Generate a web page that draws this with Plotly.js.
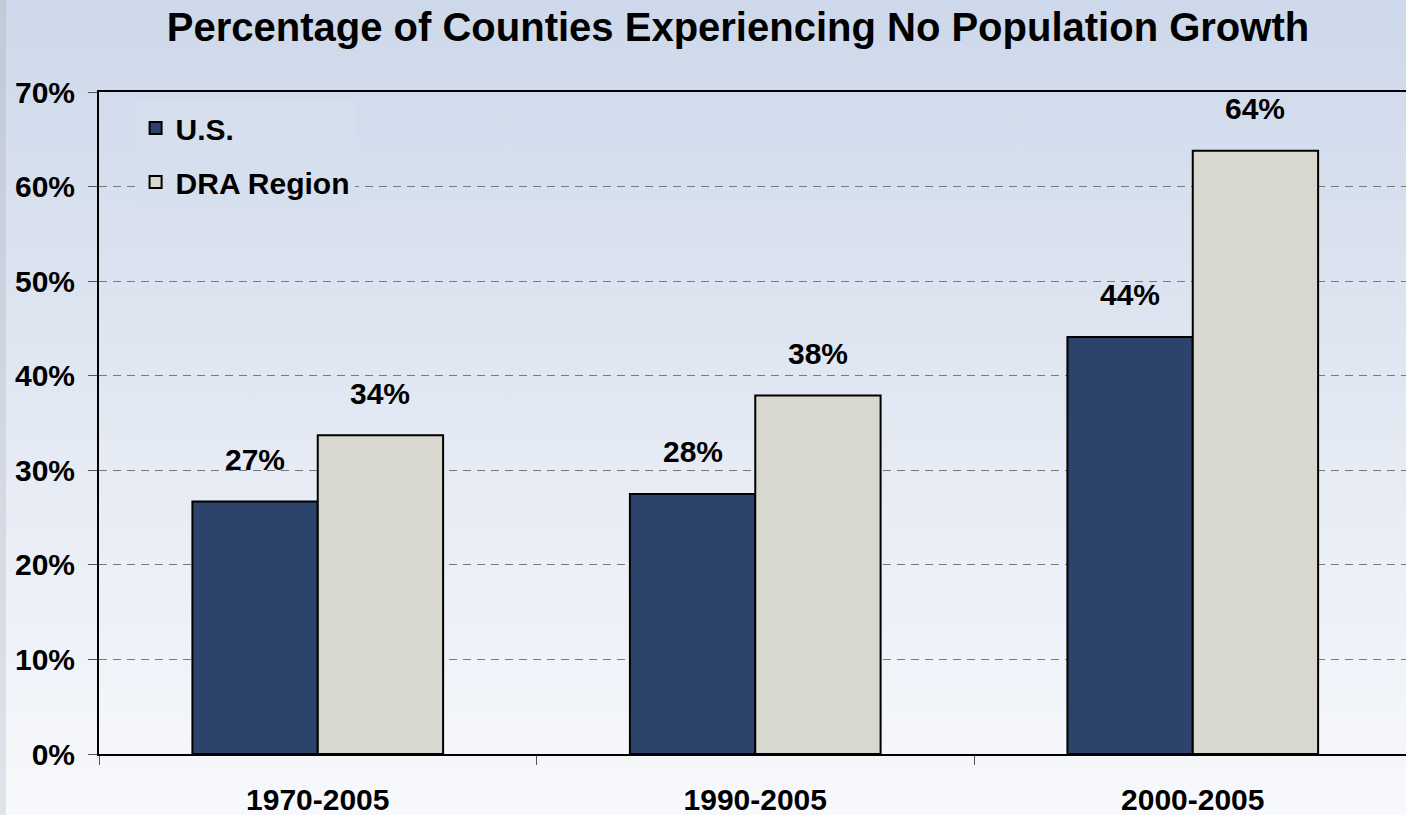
<!DOCTYPE html>
<html>
<head>
<meta charset="utf-8">
<script src="https://cdn.plot.ly/plotly-3.0.1.min.js"></script>
<style>
  html, body { margin: 0; padding: 0; }
  body {
    width: 1406px; height: 815px; overflow: hidden;
    background:
      linear-gradient(to bottom, #c2c9d7, #e0e3ea) left top / 6px 100% no-repeat,
      linear-gradient(to bottom, #cdd8ea 0%, #f8f9fc 100%);
  }
  #chart { width: 1406px; height: 815px; }
</style>
</head>
<body>
<div id="chart"></div>
<script>
// ---- data ----
const categories = ["1970-2005", "1990-2005", "2000-2005"];
const seriesNames = ["U.S.", "DRA Region"];
const usValues = [26.7, 27.5, 44.1];
const draValues = [33.7, 37.9, 63.8];
const yTickValues = [0, 10, 20, 30, 40, 50, 60, 70];
const yTickLabels = ["0%", "10%", "20%", "30%", "40%", "50%", "60%", "70%"];
const titleText = "Percentage of Counties Experiencing No Population Growth";

// ---- styles ----
const FONT = "Liberation Sans, Arial, Helvetica, sans-serif";
const colors = ["#2c436c", "#d8d8d0"];
const seriesValues = [usValues, draValues];

const traces = seriesValues.map((vals, i) => ({
  type: "bar",
  name: seriesNames[i],
  x: categories,
  y: vals,
  legendgroup: "g" + i,
  marker: { color: colors[i], line: { color: "#000000", width: 2 } },
  hoverinfo: "x+y+name"
}));

const barHalfOffset = 62.6; // px offset of each bar centre from the category centre
const annotations = [];
seriesValues.forEach((vals, i) => {
  vals.forEach((v, j) => {
    annotations.push({
      x: categories[j], y: v, xref: "x", yref: "y",
      text: Math.round(v) + "%",
      showarrow: false,
      xshift: i === 0 ? -barHalfOffset : barHalfOffset,
      yshift: 42,
      yanchor: "middle",
      font: { family: FONT, size: 30, color: "#000000", weight: 700 }
    });
  });
});

const layout = {
  width: 1406, height: 815,
  paper_bgcolor: "rgba(0,0,0,0)",
  plot_bgcolor: "rgba(0,0,0,0)",
  margin: { l: 99, r: 0, t: 92, b: 61, pad: 0 },
  barmode: "group",
  bargap: 0.427,
  bargroupgap: 0,
  title: {
    text: titleText,
    font: { family: FONT, size: 40, color: "#000000", weight: 700 },
    xref: "container", yref: "container",
    x: 0.5249, xanchor: "center",
    y: 1 - 27 / 815, yanchor: "middle"
  },
  showlegend: true,
  legend: {
    xref: "paper", yref: "paper",
    x: 0.028, y: 0.985,
    xanchor: "left", yanchor: "top",
    bgcolor: "#d6dfed",
    borderwidth: 0,
    tracegroupgap: 12,
    font: { family: FONT, size: 30, color: "#000000", weight: 700 }
  },
  xaxis: {
    type: "category",
    range: [-0.5, 2.4874],
    showline: true, linecolor: "#000000", linewidth: 2,
    mirror: true,
    ticks: "outside", tickson: "boundaries", ticklen: 9, tickwidth: 1, tickcolor: "#555555",
    showgrid: false, zeroline: false,
    tickfont: { family: FONT, size: 30, color: "#000000", weight: 700 },
    ticklabelstandoff: 18,
    automargin: false, fixedrange: true
  },
  yaxis: {
    range: [0, 70],
    tickvals: yTickValues,
    ticktext: yTickLabels,
    showline: true, linecolor: "#000000", linewidth: 2,
    ticks: "outside", ticklen: 9, tickwidth: 1, tickcolor: "#555555",
    showgrid: true, gridcolor: "#7a7a7a", gridwidth: 1, griddash: "8px,6px",
    zeroline: false,
    tickfont: { family: FONT, size: 30, color: "#000000", weight: 700 },
    ticklabelstandoff: 7,
    automargin: false, fixedrange: true
  },
  annotations: annotations
};

Plotly.newPlot("chart", traces, layout, { displayModeBar: false, responsive: false });
</script>
</body>
</html>
